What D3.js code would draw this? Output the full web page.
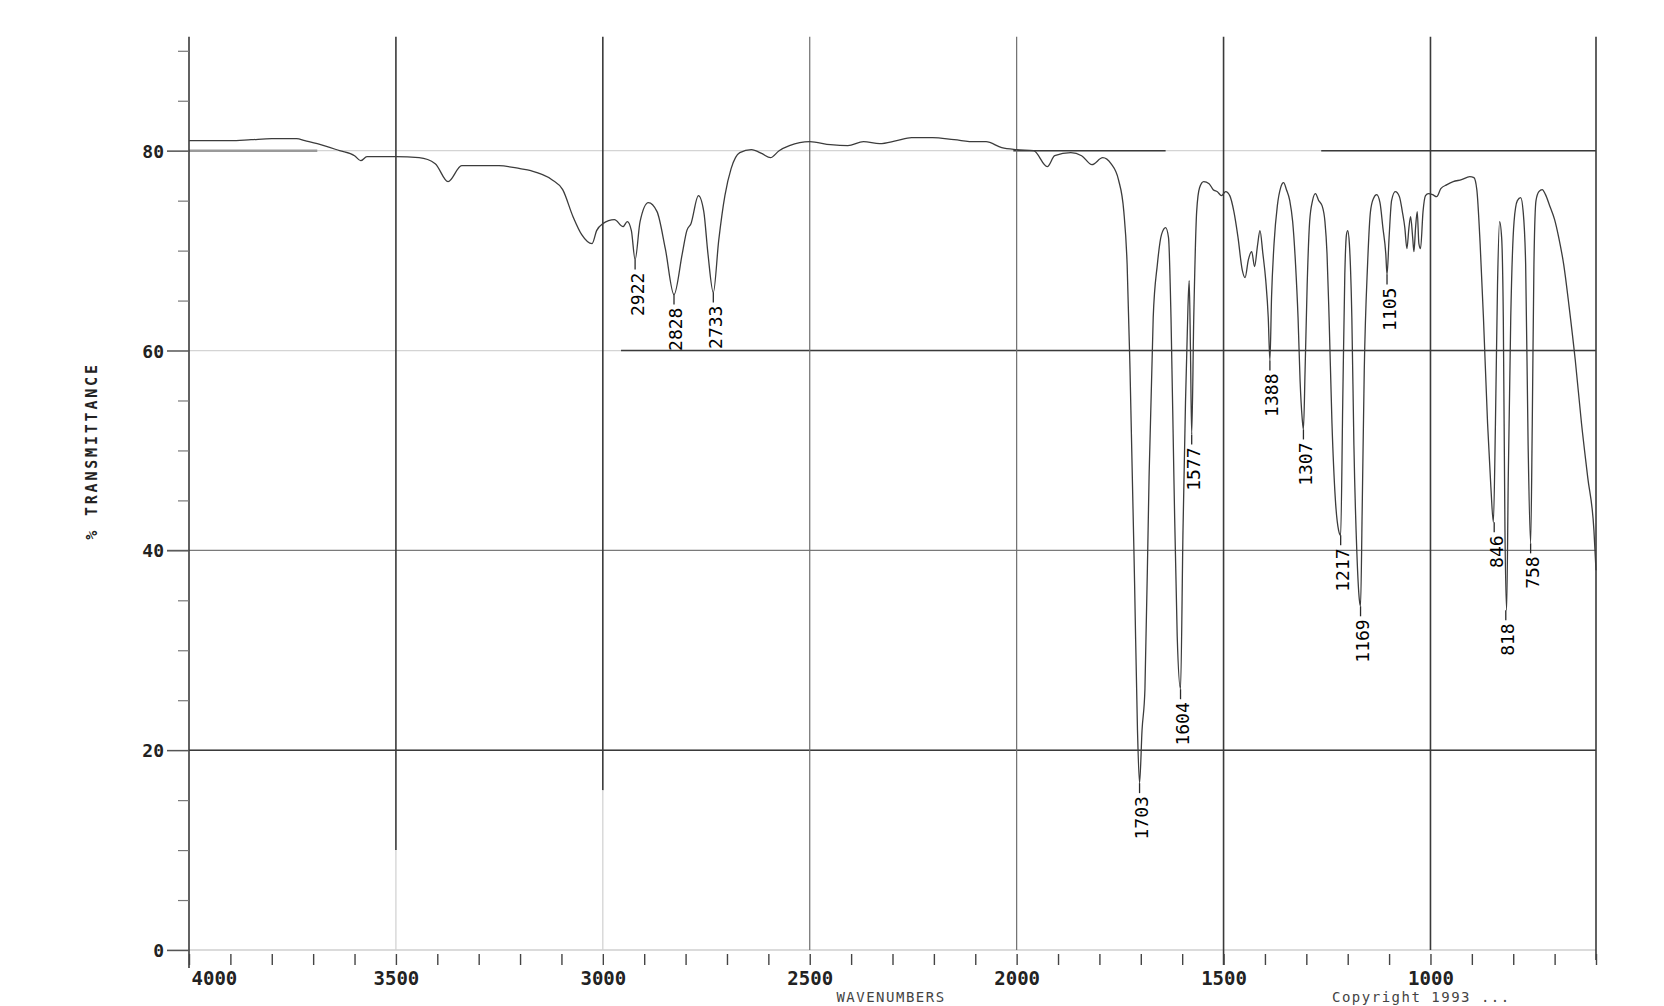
<!DOCTYPE html>
<html>
<head>
<meta charset="utf-8">
<script src="https://cdn.jsdelivr.net/npm/d3@7"></script>
<style>
  html, body { margin: 0; padding: 0; background: #fff; }
  svg { display: block; }
  text { font-family: "DejaVu Sans Mono", "Liberation Mono", monospace; fill: #111; }
</style>
</head>
<body>
<svg id="chart" width="1664" height="1006"></svg>
<script>
// ---------------- data ----------------
const spectrumWN = [4000,3900,3850,3800,3740,3720,3690,3636,3600,3585,3570,3500,3444,3405,3374,3341,3251,3200,3174,3123,3097,3072,3051,3026,3015,3000,2972,2951,2941,2931,2922,2910,2890,2869,2849,2828,2808,2797,2787,2769,2756,2746,2733,2720,2705,2690,2669,2641,2615,2595,2574,2549,2500,2450,2408,2370,2331,2290,2254,2203,2151,2100,2074,2036,2000,1959,1926,1908,1869,1843,1818,1792,1772,1754,1741,1733,1726,1715,1708,1703,1697,1690,1680,1670,1660,1650,1640,1633,1627,1620,1612,1604,1598,1592,1586,1583,1580,1577,1572,1565,1558,1548,1535,1525,1515,1505,1495,1485,1475,1465,1455,1448,1440,1432,1425,1418,1412,1405,1398,1392,1388,1384,1378,1370,1362,1355,1348,1340,1333,1326,1320,1315,1310,1307,1303,1298,1292,1285,1278,1270,1262,1255,1250,1245,1238,1230,1222,1217,1212,1207,1203,1200,1196,1190,1185,1178,1172,1169,1165,1160,1152,1145,1138,1130,1122,1115,1108,1105,1100,1094,1085,1075,1068,1062,1057,1052,1048,1043,1040,1036,1032,1028,1024,1018,1012,1005,995,985,975,960,945,925,905,895,888,880,872,862,854,848,843,838,833,828,824,820,816,812,806,798,790,782,776,770,764,758,754,750,745,738,730,722,712,700,690,678,665,650,635,620,605,600];
const spectrumT = [81.0,81.0,81.1,81.2,81.2,81.0,80.7,80.0,79.5,79.0,79.4,79.4,79.3,78.7,76.9,78.5,78.5,78.2,78.0,77.1,76.1,73.4,71.6,70.7,72.0,72.7,73.1,72.4,72.9,72.0,69.1,72.9,74.8,73.9,70.2,65.6,69.7,72.0,72.7,75.5,73.9,69.7,65.8,71.0,75.5,78.2,79.8,80.1,79.7,79.3,80.0,80.5,80.9,80.6,80.5,80.9,80.7,81.0,81.3,81.3,81.1,80.9,80.9,80.3,80.1,80.0,78.4,79.5,79.8,79.5,78.6,79.3,78.7,77.1,73.9,68.6,58.0,36.7,22.0,16.7,22.0,26.1,47.3,63.3,68.6,71.6,72.3,71.3,63.3,47.3,31.4,26.1,42.0,54.8,64.4,67.0,60.1,51.6,63.3,73.9,76.3,76.9,76.7,76.1,75.9,75.5,75.9,75.5,73.9,71.3,68.1,67.3,69.1,69.9,68.4,70.5,72.0,69.7,67.0,63.3,59.0,65.4,70.7,74.5,76.3,76.8,76.1,75.0,72.9,68.6,63.3,56.9,53.2,52.1,58.0,66.5,72.9,75.0,75.7,75.0,74.5,72.9,69.7,63.3,52.7,45.2,42.0,41.5,54.8,67.6,71.6,72.0,70.7,63.3,50.5,39.9,35.1,34.4,44.1,58.0,68.6,73.9,75.2,75.6,74.8,72.3,69.7,67.6,71.3,75.0,75.9,75.4,73.9,72.3,70.2,72.3,73.4,71.3,69.9,72.3,73.9,70.7,70.2,73.9,75.5,75.7,75.6,75.4,76.2,76.6,76.9,77.1,77.4,77.3,76.1,70.7,63.3,52.7,46.3,42.8,52.7,66.5,72.9,71.3,63.3,42.0,34.0,47.3,63.3,72.9,75.0,75.3,73.9,68.6,50.5,40.7,52.7,68.6,75.0,75.9,76.1,75.6,74.5,73.1,71.3,68.6,64.4,59.0,52.7,47.3,42.0,38.0];

const peakWN = [2922,2828,2733,1703,1604,1577,1388,1307,1217,1169,1105,846,818,758];
const peakT  = [69.1,65.6,65.8,16.7,26.1,51.6,59.0,52.1,41.5,34.4,67.6,42.8,34.0,40.7];
const peakLabels = ["2922","2828","2733","1703","1604","1577","1388","1307","1217","1169","1105","846","818","758"];

const xTickValues = [4000,3900,3800,3700,3600,3500,3400,3300,3200,3100,3000,2900,2800,2700,2600,2500,2400,2300,2200,2100,2000,1900,1800,1700,1600,1500,1400,1300,1200,1100,1000,900,800,700,600];
const xTickLabels = ["4000","3500","3000","2500","2000","1500","1000"];
const yMajorTicks = [0,20,40,60,80];
const yMinorTicks = [5,10,15,25,30,35,45,50,55,65,70,75,85,90];
const yTickLabels = ["0","20","40","60","80"];

const gridH = [80,60,40,20];
// dark horizontal grid segments: [value, from wn, to wn]
const gridHDark = [[80,4000,3690],[80,2008,1640],[80,1264,600],[60,2956,600],[20,4000,600]];
// vertical grid lines: [wn, top %T, bottom %T, dark?]
const gridV = [[3500,91.4,10,1],[3000,91.4,16,1],[2500,91.4,0,0],[2000,91.4,0,0],[1500,91.4,-1.5,1],[1000,91.4,0,1],[600,91.4,-1,1]];

const yAxisTitle = "% TRANSMITTANCE";
const xAxisTitle = "WAVENUMBERS";
const copyrightText = "Copyright 1993  ...";

// ---------------- drawing ----------------
const svg = d3.select("#chart");
const x = d3.scaleLinear().domain([4000, 600]).range([189, 1596]);
const y = d3.scaleLinear().domain([0, 80]).range([950, 150.7]);
const yTop = 91.4;

// faint full-width horizontal grid
svg.append("g").selectAll("line").data(gridH).join("line")
  .attr("x1", x(4000) - 22).attr("x2", x(600))
  .attr("y1", d => y(d)).attr("y2", d => y(d))
  .attr("stroke", d => d === 40 ? "#7a7a7a" : "#d4d4d4")
  .attr("stroke-width", d => d === 40 ? 1.1 : 1.2);

// 0 baseline
svg.append("line")
  .attr("x1", x(4000) - 22).attr("x2", x(600))
  .attr("y1", y(0)).attr("y2", y(0))
  .attr("stroke", "#cfcfcf").attr("stroke-width", 1.5);

// dark segments
svg.append("g").selectAll("line").data(gridHDark).join("line")
  .attr("x1", d => x(d[1])).attr("x2", d => x(d[2]))
  .attr("y1", d => y(d[0])).attr("y2", d => y(d[0]))
  .attr("stroke", d => (d[0] === 80 && d[1] === 4000) ? "#9a9a9a" : "#3a3a3a")
  .attr("stroke-width", d => (d[0] === 80 && d[1] === 4000) ? 2.4 : 1.6);

// vertical grid lines
svg.append("g").selectAll("line").data(gridV).join("line")
  .attr("x1", d => x(d[0])).attr("x2", d => x(d[0]))
  .attr("y1", d => y(d[1])).attr("y2", d => y(d[2]))
  .attr("stroke", d => d[3] ? "#3a3a3a" : "#6e6e6e")
  .attr("stroke-width", d => d[3] ? 1.6 : 1.2);
// faint continuation for the shorter ones
svg.append("g").selectAll("line").data(gridV.filter(d => d[2] > 0)).join("line")
  .attr("x1", d => x(d[0])).attr("x2", d => x(d[0]))
  .attr("y1", d => y(d[2])).attr("y2", y(0))
  .attr("stroke", "#d0d0d0").attr("stroke-width", 1.2);

// y axis line
svg.append("line")
  .attr("x1", x(4000)).attr("x2", x(4000))
  .attr("y1", y(yTop)).attr("y2", y(-1.8))
  .attr("stroke", "#3a3a3a").attr("stroke-width", 1.6);

// y axis ticks via d3 axis
const yAxisMajor = d3.axisLeft(y).tickValues(yMajorTicks).tickSize(22)
  .tickFormat((d, i) => yTickLabels[i]);
const gY = svg.append("g").attr("transform", `translate(${x(4000)},0)`).call(yAxisMajor);
gY.select(".domain").remove();
gY.selectAll(".tick line").attr("stroke", "#555").attr("stroke-width", 1.4);
gY.selectAll(".tick text").attr("x", -25).attr("dy", "0.36em")
  .style("font-size", "18px").style("font-family", "DejaVu Sans Mono")
  .style("font-weight", "bold").style("fill", "#222");

const yAxisMinor = d3.axisLeft(y).tickValues(yMinorTicks).tickSize(11).tickFormat("");
const gYm = svg.append("g").attr("transform", `translate(${x(4000)},0)`).call(yAxisMinor);
gYm.select(".domain").remove();
gYm.selectAll(".tick line").attr("stroke", "#777").attr("stroke-width", 1.2);

// x axis ticks
const xAxis = d3.axisBottom(x).tickValues(xTickValues).tickSize(11)
  .tickFormat(d => (xTickLabels.indexOf(String(d)) >= 0 ? String(d) : ""));
const gX = svg.append("g").attr("transform", `translate(0,${y(0) + 4})`).call(xAxis);
gX.select(".domain").remove();
gX.selectAll(".tick line").attr("stroke", "#444").attr("stroke-width", 1.4);
gX.selectAll(".tick text").attr("y", 24).attr("dy", "0.36em")
  .style("font-size", "19px").style("font-family", "DejaVu Sans Mono")
  .style("font-weight", "bold").style("fill", "#222")
  .attr("text-anchor", d => d === 4000 ? "start" : "middle")
  .attr("dx", d => d === 4000 ? 2 : 0);

// spectrum
const pts = spectrumWN.map((w, i) => [w, spectrumT[i]]);
const line = d3.line().x(d => x(d[0])).y(d => y(d[1])).curve(d3.curveMonotoneX);
svg.append("path").datum(pts)
  .attr("d", line)
  .attr("fill", "none")
  .attr("stroke", "#3c3c3c")
  .attr("stroke-width", 1.3)
  .attr("stroke-linejoin", "round");

// peak markers and labels
const peaks = peakWN.map((w, i) => ({ w, t: peakT[i], label: peakLabels[i] }));
svg.append("g").selectAll("line").data(peaks).join("line")
  .attr("x1", d => x(d.w)).attr("x2", d => x(d.w))
  .attr("y1", d => y(d.t)).attr("y2", d => y(d.t) + 10)
  .attr("stroke", "#2a2a2a").attr("stroke-width", 1.3);
svg.append("g").selectAll("text").data(peaks).join("text")
  .attr("transform", d => `translate(${x(d.w) + 2},${y(d.t) + 13}) rotate(-90)`)
  .attr("text-anchor", "end")
  .attr("dy", "0.36em")
  .style("font-size", "18px")
  .style("fill", "#000")
  .text(d => d.label);

// axis titles
svg.append("text")
  .attr("transform", `translate(92,451) rotate(-90)`)
  .attr("text-anchor", "middle").attr("dy", "0.36em")
  .style("font-size", "15px").style("letter-spacing", "2.8px")
  .style("font-weight", "bold").style("fill", "#222")
  .text(yAxisTitle);

svg.append("text")
  .attr("x", 891).attr("y", 1002)
  .attr("text-anchor", "middle")
  .style("font-size", "14px").style("letter-spacing", "1.5px")
  .style("fill", "#444")
  .text(xAxisTitle);

svg.append("text")
  .attr("x", 1332).attr("y", 1002)
  .attr("text-anchor", "start")
  .style("font-size", "14px").style("letter-spacing", "1.5px")
  .style("fill", "#444")
  .text(copyrightText);
</script>
</body>
</html>
